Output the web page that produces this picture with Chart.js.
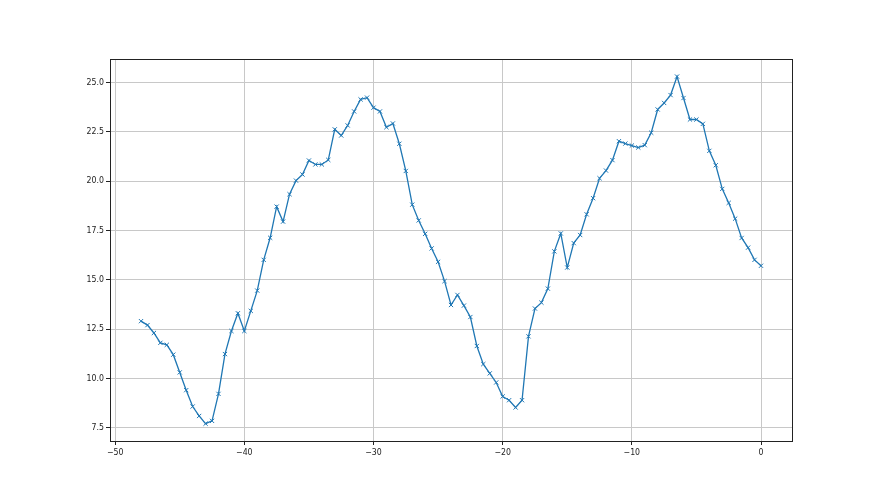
<!DOCTYPE html>
<html>
<head>
<meta charset="utf-8">
<script src="https://cdn.jsdelivr.net/npm/chart.js@4/dist/chart.umd.min.js"></script>
<style>
html,body{margin:0;padding:0;background:#fff;}
#wrap{width:880px;height:495px;}
</style>
</head>
<body>
<div id="wrap"><canvas id="c" width="880" height="495"></canvas></div>
<script>
const xValues = [
-48,-47.5,-47,-46.5,-46,-45.5,-45,-44.5,-44,-43.5,-43,-42.5,-42,-41.5,-41,-40.5,
-40,-39.5,-39,-38.5,-38,-37.5,-37,-36.5,-36,-35.5,-35,-34.5,-34,-33.5,-33,-32.5,
-32,-31.5,-31,-30.5,-30,-29.5,-29,-28.5,-28,-27.5,-27,-26.5,-26,-25.5,-25,-24.5,
-24,-23.5,-23,-22.5,-22,-21.5,-21,-20.5,-20,-19.5,-19,-18.5,-18,-17.5,-17,-16.5,
-16,-15.5,-15,-14.5,-14,-13.5,-13,-12.5,-12,-11.5,-11,-10.5,-10,-9.5,-9,-8.5,
-8,-7.5,-7,-6.5,-6,-5.5,-5,-4.5,-4,-3.5,-3,-2.5,-2,-1.5,-1,-0.5,0
];
const yValues = [
12.9,12.7,12.3,11.8,11.7,11.2,10.3,9.4,8.57,8.09,7.7,7.84,9.21,11.23,12.4,13.3,
12.4,13.42,14.45,16.01,17.13,18.71,17.95,19.34,20.03,20.34,21.05,20.85,20.85,21.08,22.63,22.32,
22.83,23.54,24.15,24.24,23.73,23.54,22.74,22.93,21.9,20.52,18.81,18.01,17.33,16.59,15.91,14.93,
13.72,14.23,13.69,13.11,11.64,10.72,10.25,9.79,9.08,8.89,8.52,8.89,12.13,13.54,13.84,14.55,
16.44,17.35,15.62,16.86,17.27,18.32,19.14,20.15,20.54,21.07,22.03,21.91,21.81,21.71,21.83,22.46,
23.64,23.97,24.37,25.31,24.22,23.13,23.13,22.91,21.54,20.81,19.61,18.9,18.1,17.12,16.63,16.01,15.71
];
const xTicks = [-50,-40,-30,-20,-10,0];
const yTicks = [7.5,10.0,12.5,15.0,17.5,20.0,22.5,25.0];

const points = xValues.map((x,i)=>({x:x,y:yValues[i]}));

const frame = {
  id:'frame',
  afterDraw(chart){
    const a = chart.chartArea, ctx = chart.ctx;
    ctx.save();
    ctx.strokeStyle = '#222';
    ctx.lineWidth = 1;
    ctx.strokeRect(Math.round(a.left)+0.5, Math.round(a.top)+0.5, Math.round(a.right-a.left), Math.round(a.bottom-a.top));
    ctx.restore();
  }
};

const tickFont = {family:"'DejaVu Sans Condensed', 'DejaVu Sans', sans-serif", size:8.7};

new Chart(document.getElementById('c'), {
  type:'line',
  data:{datasets:[{
    data: points,
    borderColor:'#1f77b4',
    backgroundColor:'#1f77b4',
    borderWidth:1.3,
    pointStyle:'crossRot',
    pointRadius:3,
    pointBorderWidth:1,
    pointBorderColor:'#1f77b4',
    tension:0,
    fill:false
  }]},
  options:{
    responsive:false,
    animation:false,
    events:[],
    layout:{padding:{top:59,right:88,left:0,bottom:0}},
    plugins:{legend:{display:false},tooltip:{enabled:false}},
    scales:{
      x:{
        type:'linear',
        min:-50.4, max:2.4,
        afterBuildTicks(s){ s.ticks = xTicks.map(v=>({value:v})); },
        afterFit(s){ s.height = 54; },
        grid:{color:'#c8c8c8', lineWidth:1, drawTicks:true, tickLength:4, tickColor:'#222'},
        border:{display:false},
        ticks:{color:'#222', font:tickFont, padding:3, maxRotation:0,
          callback:(v)=> (v<0? '\u2212'+Math.abs(v) : String(v))}
      },
      y:{
        type:'linear',
        min:6.82, max:26.2,
        afterBuildTicks(s){ s.ticks = yTicks.map(v=>({value:v})); },
        afterFit(s){ s.width = 110; },
        grid:{color:'#c8c8c8', lineWidth:1, drawTicks:true, tickLength:4, tickColor:'#222'},
        border:{display:false},
        ticks:{color:'#222', font:tickFont, padding:2,
          callback:(v)=> Number(v).toFixed(1)}
      }
    }
  },
  plugins:[frame]
});
</script>
</body>
</html>
